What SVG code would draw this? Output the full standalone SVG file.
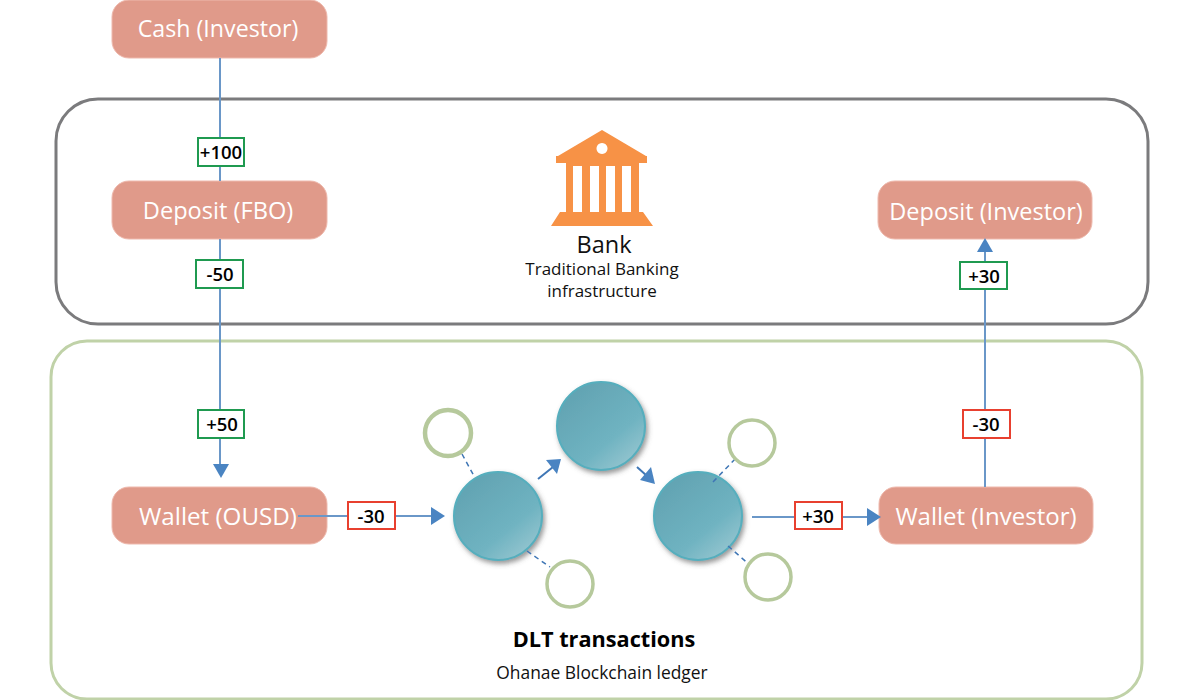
<svg xmlns="http://www.w3.org/2000/svg" width="1200" height="700" viewBox="0 0 1200 700">
<style>
text{font-family:"Open Sans","Noto Sans","Liberation Sans",sans-serif;text-anchor:middle}
.n{fill:#e09a8a;stroke:#eeb9ad;stroke-width:1}
.nt{fill:#fff;font-size:24px}
.c{stroke:#6a97c8;stroke-width:2;fill:none}
.e{stroke:#3f76b5}
.d{stroke:#3f76b5;stroke-width:1.5;stroke-dasharray:5 4;fill:none}
.h{fill:#4a84c2}
.g{fill:#fff;stroke:#1f9a50;stroke-width:2}
.r{fill:#fff;stroke:#e8402f;stroke-width:2}
.l{fill:#000;font-size:18.500px;font-weight:600}
.big{fill:url(#ball);stroke:#56aebd;stroke-width:2;filter:url(#sh)}
.sm{fill:#fff;stroke:#b6c99c;stroke-width:3.500}
.sub{font-size:17px;fill:#111}
</style>
<defs>
<linearGradient id="ball" x1="0.15" y1="0.1" x2="0.85" y2="0.95">
<stop offset="0" stop-color="#62a3b2"/><stop offset="0.65" stop-color="#6fb3c1"/><stop offset="1" stop-color="#97c6d0"/>
</linearGradient>
<filter id="sh" x="-20%" y="-20%" width="140%" height="140%">
<feDropShadow dx="2" dy="3" stdDeviation="2.500" flood-color="#555" flood-opacity="0.6"/>
</filter>
</defs>
<g id="bank-zone"><rect x="56" y="99" width="1092" height="225" rx="42" fill="#fff" stroke="#7b7b7d" stroke-width="3"/></g>
<g id="dlt-zone"><rect x="51" y="341" width="1091" height="358" rx="36" fill="#fff" stroke="#c0d2a8" stroke-width="3"/></g>
<g id="cash-investor"><rect class="n" x="112" y="0" width="215" height="58" rx="17"/><text class="nt" x="218" y="37" style="font-size:23.200px">Cash (Investor)</text></g>
<g id="deposit-fbo"><rect class="n" x="112" y="181" width="215" height="58" rx="17"/><text class="nt" x="218" y="219" style="font-size:23.600px">Deposit (FBO)</text></g>
<g id="deposit-investor"><rect class="n" x="878" y="181" width="214" height="58" rx="17"/><text class="nt" x="986" y="220" style="font-size:23.500px">Deposit (Investor)</text></g>
<g id="wallet-ousd"><rect class="n" x="112" y="487" width="215" height="57" rx="17"/><text class="nt" x="218" y="525" style="font-size:24.200px">Wallet (OUSD)</text></g>
<g id="wallet-investor"><rect class="n" x="879" y="487" width="214" height="57" rx="17"/><text class="nt" x="986" y="525">Wallet (Investor)</text></g>
<g id="ledger-a"><circle class="big" cx="498" cy="516" r="44"/></g>
<g id="ledger-b"><circle class="big" cx="601" cy="426" r="44"/></g>
<g id="ledger-c"><circle class="big" cx="698" cy="516" r="44"/></g>
<g id="connectors">
<path class="c" d="M220 58V181M220 239V464"/>
<polygon class="h" points="213,464 229,464 221,478"/>
<path class="c" d="M298 516H431"/>
<polygon class="h" points="431,507 445,516 431,525"/>
<path class="c e" d="M538 479L553 467"/>
<polygon class="h" points="546,460 561,459 557,474"/>
<path class="c e" d="M637 467L647 476"/>
<polygon class="h" points="651,467 655,484 640,480"/>
<path class="c" d="M752 517H867"/>
<polygon class="h" points="867,508 881,517 867,526"/>
<path class="c" d="M985 487V252"/>
<polygon class="h" points="977,252 993,252 985,238"/>
<path class="d" d="M462 454L474 476"/>
<path class="d" d="M527 551L550 567"/>
<path class="d" d="M713 482L736 458"/>
<path class="d" d="M728 546L751 566"/>
</g>
<g id="bank">
<path fill="#f79246" fill-rule="evenodd" d="M602 130L646 156H647V163H639V212H643L653 226H551L560 212H566V163H556V156H558ZM602 143a5.500 5.500 0 1 0 .01 0ZM573 166V212H582V166ZM590 166V212H599V166ZM606 166V212H615V166ZM622 166V212H631V166Z"/>
<text x="604" y="253" font-size="23.500" fill="#111">Bank</text>
<text class="sub" x="602" y="275">Traditional Banking</text>
<text class="sub" x="602" y="297">infrastructure</text>
</g>
<g id="dlt-label">
<text x="604" y="647" font-size="21.700" font-weight="700" fill="#000">DLT transactions</text>
<text class="sub" x="602" y="679" style="font-size:17.400px">Ohanae Blockchain ledger</text>
</g>
<g id="peer-1"><circle class="sm" cx="448" cy="433" r="23" style="stroke-width:4.500"/></g>
<g id="peer-2"><circle class="sm" cx="570" cy="584" r="23"/></g>
<g id="peer-3"><circle class="sm" cx="752" cy="443" r="23"/></g>
<g id="peer-4"><circle class="sm" cx="768" cy="577" r="23"/></g>
<g id="amt-100"><rect class="g" x="198" y="138" width="46" height="28"/><text class="l" x="221" y="158.500">+100</text></g>
<g id="amt-m50"><rect class="g" x="196" y="260" width="47" height="28"/><text class="l" x="220" y="280.500">-50</text></g>
<g id="amt-p50"><rect class="g" x="198" y="410" width="46" height="28"/><text class="l" x="222" y="430.500">+50</text></g>
<g id="amt-m30a"><rect class="r" x="348" y="502" width="47" height="27"/><text class="l" x="371" y="522.500">-30</text></g>
<g id="amt-p30a"><rect class="r" x="795" y="502" width="47" height="27"/><text class="l" x="818" y="522.500">+30</text></g>
<g id="amt-m30b"><rect class="r" x="963" y="410" width="47" height="28"/><text class="l" x="986" y="430.500">-30</text></g>
<g id="amt-p30b"><rect class="g" x="960" y="262" width="47" height="27"/><text class="l" x="984" y="282.500">+30</text></g>
</svg>
